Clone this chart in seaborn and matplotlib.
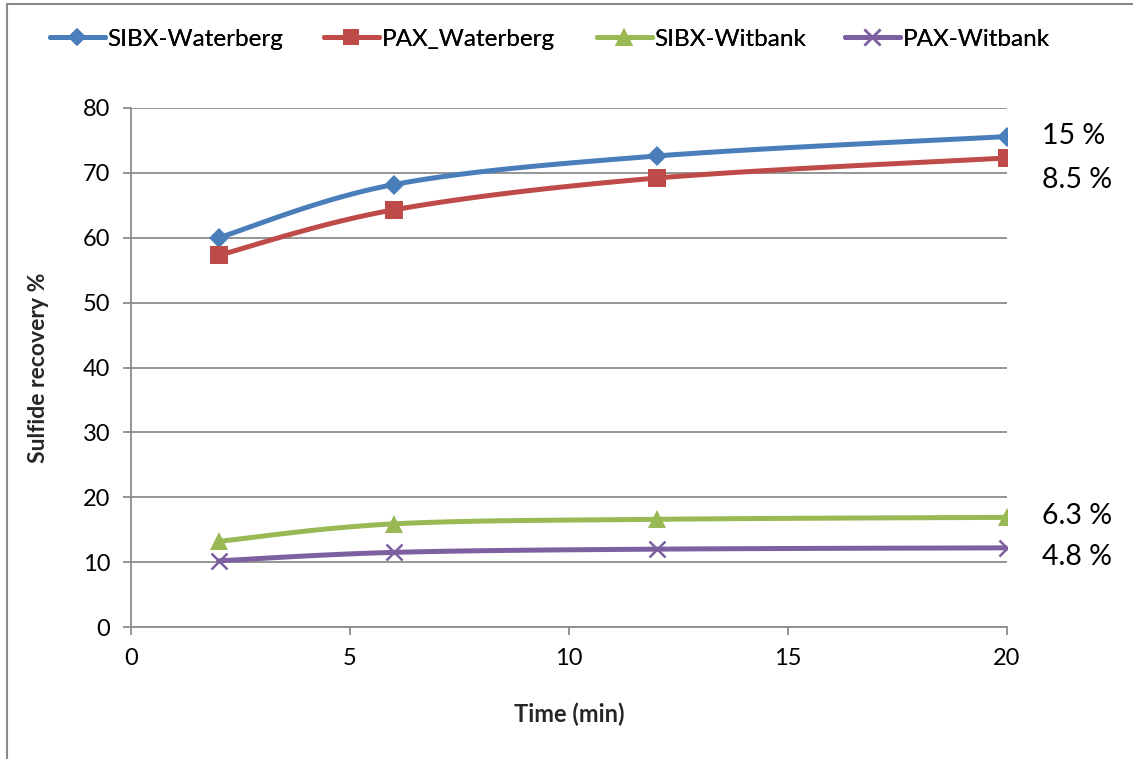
import numpy as np
import pandas as pd
import matplotlib
matplotlib.use('Agg')
import matplotlib.pyplot as plt
from matplotlib.lines import Line2D
from matplotlib.patches import Rectangle
import seaborn as sns

# ---- data ----
time_min = [2, 6, 12, 20]
sibx_waterberg = [60.0, 68.2, 72.6, 75.6]
pax_waterberg = [57.3, 64.3, 69.2, 72.3]
sibx_witbank = [13.2, 15.9, 16.6, 16.9]
pax_witbank = [10.2, 11.5, 12.0, 12.2]
series_names = ['SIBX-Waterberg', 'PAX_Waterberg', 'SIBX-Witbank', 'PAX-Witbank']
end_labels = ['15 %', '8.5 %', '6.3 %', '4.8 %']
end_label_y = [75.7, 68.9, 17.1, 10.8]
x_ticks = [0, 5, 10, 15, 20]
y_ticks = [0, 10, 20, 30, 40, 50, 60, 70, 80]

colors = ['#4A7EBB', '#BE4B48', '#98B954', '#7D60A0']
markers = ['D', 's', '^', 'x']
msizes = [10, 12.5, 13, 12]
legend_x_px = [50, 324, 597, 845]

sns.set_theme(style='white')
plt.rcParams['font.family'] = ['Lato', 'DejaVu Sans']
plt.rcParams['text.color'] = '#000000'

W, H = 1133, 759
fig = plt.figure(figsize=(W / 100, H / 100), dpi=100)
ax = fig.add_axes([131 / W, 1 - 627 / H, (1007 - 131) / W, (627 - 108) / H])


def smooth_curve(xs, ys, n=40):
    """Excel-style smoothed line: cubic Bezier segments through the points."""
    P = np.column_stack([xs, ys]).astype(float)
    out = []
    m = len(P)
    for i in range(m - 1):
        p0 = P[i - 1] if i > 0 else P[i]
        p1 = P[i]
        p2 = P[i + 1]
        p3 = P[i + 2] if i + 2 < m else P[i + 1]
        c1 = p1 + (p2 - p0) / 6.0
        c2 = p2 - (p3 - p1) / 6.0
        t = np.linspace(0, 1, n)[:, None]
        seg = ((1 - t) ** 3) * p1 + 3 * ((1 - t) ** 2) * t * c1 + 3 * (1 - t) * t ** 2 * c2 + t ** 3 * p2
        if i > 0:
            seg = seg[1:]
        out.append(seg)
    return np.vstack(out)


all_series = [sibx_waterberg, pax_waterberg, sibx_witbank, pax_witbank]
handles = []
for name, vals, c, mk, ms in zip(series_names, all_series, colors, markers, msizes):
    curve = smooth_curve(time_min, vals)
    cdf = pd.DataFrame({'x': curve[:, 0], 'y': curve[:, 1]})
    sns.lineplot(data=cdf, x='x', y='y', ax=ax, color=c, lw=3.6, sort=False,
                 estimator=None, zorder=3)
    pdf = pd.DataFrame({'x': time_min, 'y': vals})
    mew = 1.8 if mk == 'x' else 0
    sns.lineplot(data=pdf, x='x', y='y', ax=ax, color=c, linestyle='none',
                 marker=mk, markersize=ms, markeredgewidth=mew,
                 markeredgecolor=c, estimator=None, zorder=4)
    handles.append(Line2D([0], [0], color=c, lw=3.6, marker=mk,
                          markersize=ms * 0.95, markeredgewidth=mew, markeredgecolor=c))

ax.set_xlim(0, 20)
ax.set_ylim(0, 80)
ax.set_xticks(x_ticks)
ax.set_yticks(y_ticks)
ax.tick_params(axis='both', labelsize=17, length=6, width=1.3, color='#8C8C8C',
               direction='out', bottom=True, left=True, labelcolor='#000000')
ax.tick_params(axis='y', pad=9)
ax.tick_params(axis='x', pad=9)
ax.grid(axis='y', color='#8C8C8C', lw=1.3)
ax.grid(axis='x', visible=False)
for side in ['top', 'right']:
    ax.spines[side].set_visible(False)
for side in ['left', 'bottom']:
    ax.spines[side].set_color('#8C8C8C')
    ax.spines[side].set_linewidth(1.3)
ax.set_axisbelow(True)

ax.set_xlabel('Time (min)', fontsize=17, fontweight='bold', labelpad=24)
ax.set_ylabel('Sulfide recovery %', fontsize=16.5, fontweight='bold', labelpad=24)

for txt, yv in zip(end_labels, end_label_y):
    ax.text(20.8, yv, txt, fontsize=20.5, va='center', ha='left', clip_on=False)

for h, name, xp in zip(handles, series_names, legend_x_px):
    leg = fig.legend(handles=[h], labels=[name], loc='center left',
                     bbox_to_anchor=(xp / W, 1 - 39 / H), frameon=False,
                     fontsize=17.5, handlelength=2.25, handletextpad=0.12,
                     borderaxespad=0, borderpad=0)
    fig.add_artist(leg)

fig.patches.append(Rectangle((7 / W, -0.1), 1.2, 1.1 - 4 / H, transform=fig.transFigure,
                             fill=False, edgecolor='#8A8A8A', lw=1.5))

fig.savefig('out.png', dpi=100)
